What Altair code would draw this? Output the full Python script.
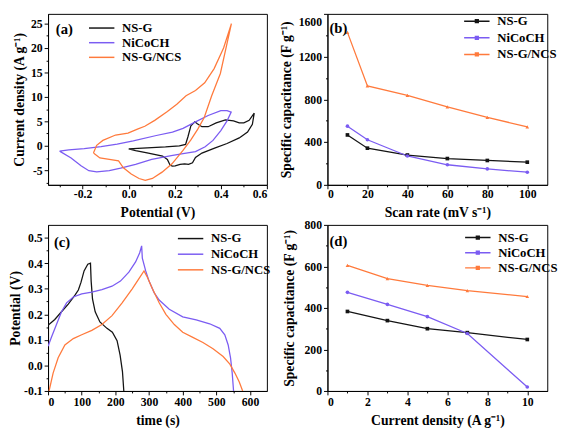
import altair as alt
import pandas as pd

FONT = "Liberation Serif"
SERIES = ["NS-G", "NiCoCH", "NS-G/NCS"]
COLORS = ["#141414", "#7b5cf2", "#ff7a3c"]
SHAPES = ["square", "circle", "triangle-up"]

# ---------------- (a) cyclic voltammograms: potential (V) / current density (A g-1), in drawing order
a_nsg_v = [0.0, 0.08, 0.16, 0.22, 0.247, 0.257, 0.27, 0.287, 0.298, 0.318, 0.345, 0.38, 0.42, 0.455,
           0.48, 0.5, 0.523, 0.545, 0.537, 0.516, 0.48, 0.427, 0.373, 0.318, 0.29, 0.277, 0.26, 0.243,
           0.223, 0.202, 0.19, 0.18, 0.168, 0.147, 0.08, 0.03, 0.0]
a_nsg_i = [-0.66, -0.45, -0.25, 0.0, 0.26, 1.8, 4.1, 4.9, 4.5, 3.9, 3.9, 4.7, 5.3, 5.1,
           4.7, 4.7, 5.2, 6.7, 4.4, 2.8, 1.6, 0.46, -0.5, -1.5, -2.4, -3.5, -3.8, -3.7,
           -3.8, -4.1, -4.15, -4.0, -2.8, -2.1, -1.45, -1.0, -0.66]

a_nico_v = [-0.3, -0.26, -0.193, -0.12, -0.05, 0.02, 0.12, 0.19, 0.236, 0.29, 0.345, 0.4, 0.427, 0.445,
            0.427, 0.4, 0.366, 0.332, 0.29, 0.236, 0.185, 0.1, 0.03, -0.035, -0.084, -0.139, -0.173,
            -0.207, -0.25, -0.3]
a_nico_i = [-1.1, -0.85, -0.6, -0.2, 0.35, 1.0, 2.1, 2.8, 3.55, 4.9, 6.2, 7.2, 7.2, 6.9,
            5.1, 3.1, 1.1, -0.2, -1.2, -1.6, -2.0, -2.8, -3.8, -4.6, -5.1, -5.35, -5.1,
            -4.1, -2.5, -1.1]

a_ncs_v = [-0.153, -0.139, -0.112, -0.057, -0.003, 0.038, 0.07, 0.113, 0.168, 0.209, 0.249, 0.29,
           0.33, 0.371, 0.412, 0.446, 0.398, 0.36, 0.328, 0.3, 0.27, 0.235, 0.188, 0.145, 0.103,
           0.072, 0.045, 0.011, -0.023, -0.044, -0.084, -0.125, -0.153]
a_ncs_i = [-1.5, 0.1, 1.1, 2.2, 2.6, 3.4, 4.0, 5.2, 7.0, 8.5, 10.25, 11.3,
           12.9, 15.8, 20.0, 25.0, 14.8, 10.2, 5.8, 3.4, 1.2, -1.0, -3.7, -5.4, -6.7,
           -7.06, -6.7, -5.8, -4.5, -3.1, -2.8, -2.5, -1.5]

# ---------------- (b) specific capacitance vs scan rate
b_rate = [10, 20, 40, 60, 80, 100]
b_nsg = [467, 343, 279, 246, 228, 212]
b_nico = [549, 422, 270, 188, 149, 118]
b_ncs = [1427, 926, 838, 729, 631, 543]

# ---------------- (c) galvanostatic charge/discharge: time (s) / potential (V)
c_nsg_t = [0, 20, 40, 60, 80, 90, 98, 107, 118, 126, 128, 132, 140, 154, 175, 191, 205, 214, 221, 225]
c_nsg_v = [0.157, 0.18, 0.21, 0.24, 0.275, 0.295, 0.326, 0.37, 0.396, 0.40, 0.33, 0.26, 0.21, 0.17,
           0.145, 0.13, 0.097, 0.04, -0.024, -0.1]
c_nico_t = [0, 10, 25, 40, 55, 75, 100, 130, 160, 190, 215, 240, 260, 272, 278, 280, 290, 300, 315,
            330, 360, 400, 440, 480, 510, 525, 535, 542, 547, 551]
c_nico_v = [0.075, 0.11, 0.16, 0.21, 0.245, 0.268, 0.28, 0.287, 0.297, 0.31, 0.33, 0.365, 0.405, 0.44,
            0.468, 0.42, 0.37, 0.33, 0.285, 0.256, 0.22, 0.19, 0.178, 0.163, 0.145, 0.12, 0.08, 0.03,
            -0.03, -0.1]
c_ncs_t = [3, 15, 30, 50, 75, 100, 130, 160, 190, 220, 250, 270, 285, 295, 310, 330, 350, 375, 400,
           430, 460, 490, 520, 540, 555, 568, 578]
c_ncs_v = [-0.1, -0.03, 0.03, 0.08, 0.105, 0.12, 0.137, 0.16, 0.195, 0.245, 0.3, 0.34, 0.37, 0.345,
           0.3, 0.245, 0.2, 0.16, 0.13, 0.11, 0.09, 0.065, 0.035, 0.005, -0.03, -0.065, -0.1]

# ---------------- (d) specific capacitance vs current density
d_cd = [1, 3, 5, 7, 10]
d_nsg = [383, 339, 300, 281, 248]
d_nico = [475, 417, 358, 277, 19]
d_ncs = [605, 541, 509, 483, 455]

# ---------------- tick values
a_xt, a_xm = [-0.2, 0.0, 0.2, 0.4, 0.6], [-0.3, -0.1, 0.1, 0.3, 0.5]
a_yt, a_ym = [-5, 0, 5, 10, 15, 20, 25], [-7.5, -2.5, 2.5, 7.5, 12.5, 17.5, 22.5]
b_xt, b_xm = [0, 20, 40, 60, 80, 100], [10, 30, 50, 70, 90]
b_yt, b_ym = [0, 400, 800, 1200, 1600], [200, 600, 1000, 1400]
c_xt, c_xm = [0, 100, 200, 300, 400, 500, 600], [50, 150, 250, 350, 450, 550]
c_yt, c_ym = [-0.1, 0.0, 0.1, 0.2, 0.3, 0.4, 0.5], [-0.05, 0.05, 0.15, 0.25, 0.35, 0.45]
d_xt, d_xm = [0, 2, 4, 6, 8, 10], [1, 3, 5, 7, 9]
d_yt, d_ym = [0, 200, 400, 600, 800], [100, 300, 500, 700]


def make_df(xs_list, ys_list):
    rows = []
    for name, xs, ys in zip(SERIES, xs_list, ys_list):
        for k, (x, y) in enumerate(zip(xs, ys)):
            rows.append({"series": name, "x": x, "y": y, "idx": k})
    return pd.DataFrame(rows)


df_a = make_df([a_nsg_v, a_nico_v, a_ncs_v], [a_nsg_i, a_nico_i, a_ncs_i])
df_b = make_df([b_rate] * 3, [b_nsg, b_nico, b_ncs])
df_c = make_df([c_nsg_t, c_nico_t, c_ncs_t], [c_nsg_v, c_nico_v, c_ncs_v])
df_d = make_df([d_cd] * 3, [d_nsg, d_nico, d_ncs])

MINUS = "\u2212"

# legend symbol: a 26px line (custom path scaled by sqrt(size)/2)
SYM_LINE = "M-5,0H5"
SYM_LINE_MARK = "M-5,0H5M-0.55,-0.55H0.55V0.55H-0.55Z"
SYM_SIZE = 27.04


def fmt_expr(fmt):
    return f"replace(format(datum.value, '{fmt}'), '{MINUS}', '-')"


def legend_at(x, y, rowpad, sym):
    # symbol spans legendX-10.4 .. legendX+15.6 ; label starts 4px after it
    return alt.Legend(orient="none", legendX=x + 10.4, legendY=y, title=None, symbolType=sym,
                      symbolSize=SYM_SIZE, symbolStrokeWidth=1.5, labelFont=FONT, labelFontSize=13,
                      labelFontWeight="bold", labelColor="black", rowPadding=rowpad, padding=0,
                      labelOffset=14.4, labelLimit=0)


def panel(df, xdom, ydom, xt, xm, yt, ym, xfmt, yfmt, xtitle, ytitle, w, h, tag, tagxy,
          legxy, rowpad, yext, ytp, xlp, xext, xtp, points=False, ordered=False, top_flush=None):
    xs = alt.Scale(domain=xdom, nice=False, zero=False)
    ys = alt.Scale(domain=ydom, nice=False, zero=False)
    yaxis_kw = dict(values=yt, title=ytitle, labelExpr=fmt_expr(yfmt), tickSize=4, labelPadding=2,
                    titlePadding=ytp, minExtent=yext, maxExtent=yext, grid=False)
    if top_flush is not None:
        test = f"datum.value >= {top_flush}"
        yaxis_kw["labelBaseline"] = alt.condition(test, alt.value("top"), alt.value("middle"))
        yaxis_kw["labelOffset"] = alt.condition(test, alt.value(2.5), alt.value(0))
    X = alt.X("x:Q", scale=xs, axis=alt.Axis(values=xt, title=xtitle, labelExpr=fmt_expr(xfmt),
                                              tickSize=4, labelPadding=xlp, titlePadding=xtp,
                                              minExtent=xext, maxExtent=xext, grid=False))
    Y = alt.Y("y:Q", scale=ys, axis=alt.Axis(**yaxis_kw))
    col = alt.Color("series:N", scale=alt.Scale(domain=SERIES, range=COLORS),
                    legend=legend_at(legxy[0], legxy[1], rowpad,
                                     SYM_LINE_MARK if points else SYM_LINE))
    enc = dict(x=X, y=Y, color=col)
    if ordered:
        enc["order"] = alt.Order("idx:Q")
    layers = [alt.Chart(df).mark_line(strokeWidth=1.3, clip=True).encode(**enc)]
    if points:
        layers.append(
            alt.Chart(df).mark_point(filled=True, size=14, opacity=1).encode(
                x=alt.X("x:Q", scale=xs, axis=None),
                y=alt.Y("y:Q", scale=ys, axis=None),
                color=col,
                shape=alt.Shape("series:N", scale=alt.Scale(domain=SERIES, range=SHAPES), legend=None),
            )
        )
    minor = alt.Chart(df).mark_point(opacity=0).encode(
        x=alt.X("x:Q", scale=xs, axis=alt.Axis(values=xm, labels=False, tickSize=2, domain=False,
                                                grid=False, title=None, orient="bottom",
                                                minExtent=0, maxExtent=0)),
        y=alt.Y("y:Q", scale=ys, axis=alt.Axis(values=ym, labels=False, tickSize=2, domain=False,
                                                grid=False, title=None, orient="left",
                                                minExtent=0, maxExtent=0)),
    )
    label = alt.Chart(pd.DataFrame({"tag": [tag]})).mark_text(
        font=FONT, fontSize=15, fontWeight="bold", align="left", baseline="middle", color="black"
    ).encode(x=alt.value(tagxy[0]), y=alt.value(tagxy[1]), text="tag:N")
    return alt.layer(*layers, minor, label).resolve_axis(
        x="independent", y="independent").properties(width=w, height=h)


pa = panel(df_a, [-0.35, 0.6], [-8, 27], a_xt, a_xm, a_yt, a_ym, ".1f", "d",
           "Potential (V)", "Current density (A g\u207b\u00b9)", 224, 175, "(a)", (8, 16),
           (38, 8), 1, 20, 2, 0, 16, 5, ordered=True)
pb = panel(df_b, [0, 110], [0, 1600], b_xt, b_xm, b_yt, b_ym, "d", "d",
           "Scan rate (mV s\u207b\u00b9)", "Specific capacitance (F g\u207b\u00b9)", 225, 175, "(b)",
           (2, 15), (136, 1), 3, 31, 4, 0, 16, 5, points=True, top_flush=1600)
pc = panel(df_c, [0, 650], [-0.1, 0.55], c_xt, c_xm, c_yt, c_ym, "d", ".1f",
           "time (s)", "Potential (V)", 224, 170, "(c)", (6, 18),
           (129, 7.5), 2, 25, 1, 2, 18, 5)
pd_ = panel(df_d, [0, 11], [0, 800], d_xt, d_xm, d_yt, d_ym, "d", "d",
            "Current density (A g\u207b\u00b9)", "Specific capacitance (F g\u207b\u00b9)", 225, 170, "(d)",
            (2, 17), (137, 6.5), 1.5, 30, 2, 2, 18, 5, points=True)

chart = alt.concat(
    pa, pb, pc, pd_, columns=2, spacing={"row": 41, "column": 62}, bounds="flush", align="each"
).resolve_scale(
    x="independent", y="independent"
).resolve_legend(
    color="independent"
).configure_view(
    stroke="black", strokeWidth=1
).configure_axis(
    labelFont=FONT, labelFontSize=12, labelFontWeight="bold", labelColor="black",
    titleFont=FONT, titleFontSize=14, titleFontWeight="bold", titleColor="black",
    domainColor="black", tickColor="black", domainWidth=1, tickWidth=1, grid=False
).configure_legend(
    labelFont=FONT, labelFontSize=13, labelFontWeight="bold", labelColor="black"
).properties(padding=0)

chart.save("out.html", embed_options={"renderer": "svg", "actions": False})
